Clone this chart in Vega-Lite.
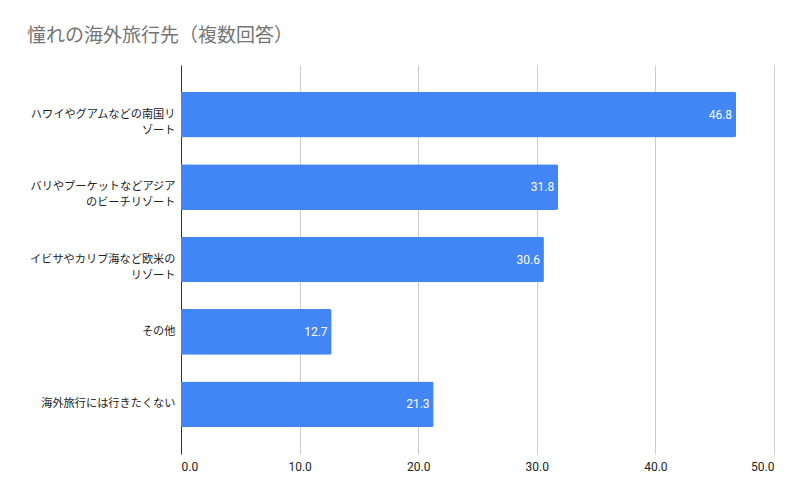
{
  "$schema": "https://vega.github.io/schema/vega-lite/v6.json",
  "autosize": "none",
  "width": 593,
  "height": 389,
  "padding": {"left": 181, "top": 65, "right": 26, "bottom": 46},
  "background": "white",
  "title": {
    "text": "憧れの海外旅行先（複数回答）",
    "anchor": "start",
    "frame": "group",
    "dx": -154,
    "offset": 19,
    "font": "Noto Sans CJK JP",
    "fontSize": 19,
    "fontWeight": "normal",
    "color": "#757575"
  },
  "data": {
    "values": [
      {"order": 1, "category": "ハワイやグアムなどの南国リ\nゾート", "value": 46.8},
      {"order": 2, "category": "バリやプーケットなどアジア\nのビーチリゾート", "value": 31.8},
      {"order": 3, "category": "イビサやカリブ海など欧米の\nリゾート", "value": 30.6},
      {"order": 4, "category": "その他", "value": 12.7},
      {"order": 5, "category": "海外旅行には行きたくない", "value": 21.3}
    ]
  },
  "encoding": {
    "y": {
      "field": "category",
      "type": "nominal",
      "sort": {"field": "order", "op": "min"},
      "scale": {"paddingInner": 0.37, "paddingOuter": 0.37},
      "axis": {
        "title": null,
        "labelExpr": "split(datum.value, '\\n')",
        "labelFont": "Noto Sans CJK JP",
        "labelFontSize": 11.2,
        "labelColor": "#222222",
        "labelLineHeight": 16,
        "labelPadding": 6,
        "ticks": false,
        "domain": true,
        "domainColor": "#333333",
        "domainWidth": 1,
        "grid": false,
        "labelLimit": 200
      }
    },
    "x": {
      "field": "value",
      "type": "quantitative",
      "scale": {"domain": [0, 50], "nice": false},
      "axis": {
        "title": null,
        "values": [0, 10, 20, 30, 40, 50],
        "format": ".1f",
        "labelFont": "Roboto",
        "labelFontSize": 12,
        "labelColor": "#222222",
        "labelPadding": 7,
        "ticks": false,
        "domain": false,
        "grid": true,
        "gridColor": "#cccccc",
        "gridWidth": 1
      }
    }
  },
  "layer": [
    {
      "mark": {"type": "bar", "color": "#4285F4", "cornerRadiusEnd": 2}
    },
    {
      "mark": {
        "type": "text",
        "align": "right",
        "baseline": "middle",
        "dx": -4,
        "color": "white",
        "font": "Roboto",
        "fontSize": 12
      },
      "encoding": {
        "text": {"field": "value", "type": "quantitative", "format": ".1f"}
      }
    }
  ],
  "config": {
    "view": {"stroke": null}
  }
}
